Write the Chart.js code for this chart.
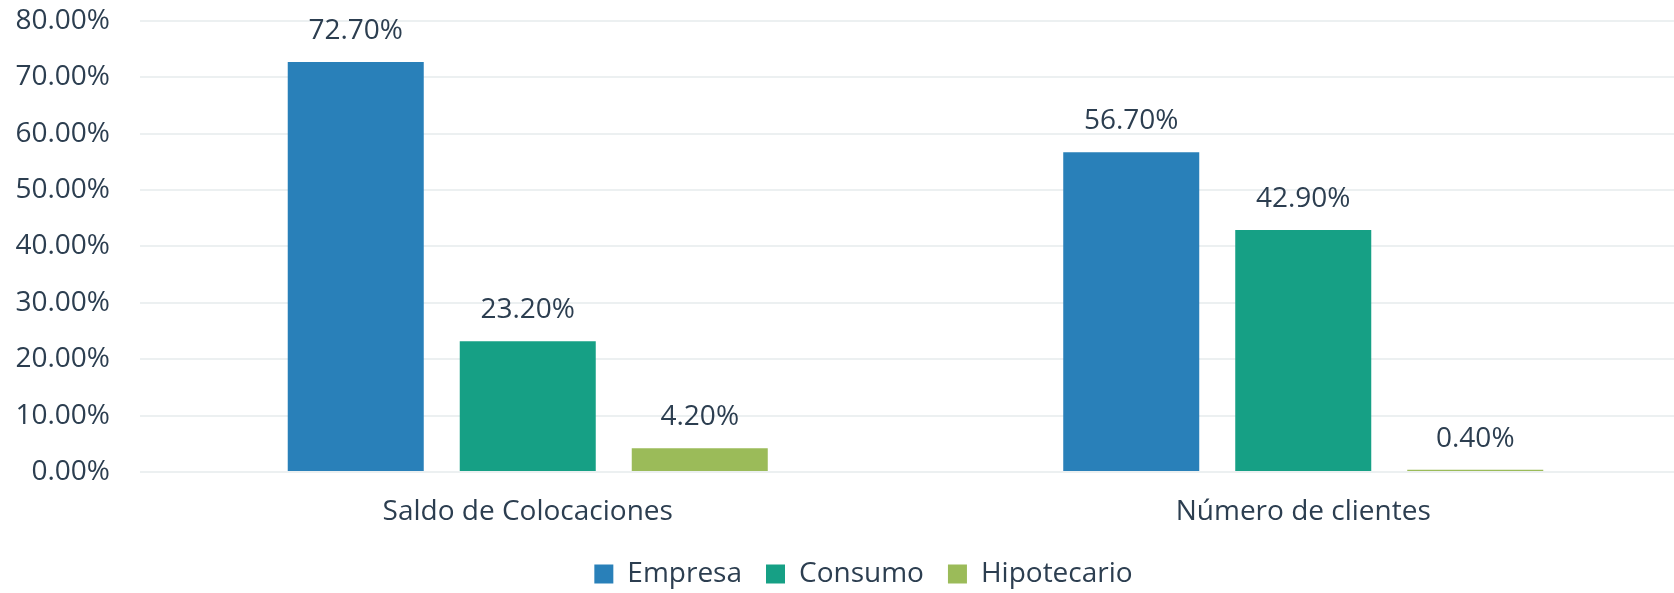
<!DOCTYPE html>
<html>
<head>
<meta charset="utf-8">
<script src="https://cdn.jsdelivr.net/npm/chart.js@4"></script>
<style>
  html, body { margin: 0; padding: 0; background: #fff; overflow: hidden; }
  #wrap { width: 1726px; height: 631px; margin-top: -26px; }
</style>
</head>
<body>
<div id="wrap"><canvas id="colocChart"></canvas></div>
<script>
/***** data *****/
var categories = ['Saldo de Colocaciones', 'Número de clientes'];
var empresa = [72.7, 56.7];
var consumo = [23.2, 42.9];
var hipotecario = [4.2, 0.4];
var yTicks = [0, 10, 20, 30, 40, 50, 60, 70, 80];

var textColor = '#2c3e50';
var font = { family: "'Open Sans', sans-serif", size: 28 };

// labels on top of the bars
var barLabels = {
  id: 'barLabels',
  afterDatasetsDraw: function (chart) {
    var ctx = chart.ctx;
    ctx.save();
    ctx.font = font.size + 'px ' + font.family;
    ctx.fillStyle = textColor;
    ctx.textAlign = 'center';
    ctx.textBaseline = 'middle';
    chart.data.datasets.forEach(function (ds, i) {
      chart.getDatasetMeta(i).data.forEach(function (bar, j) {
        ctx.fillText(ds.data[j].toFixed(2) + '%', bar.x, bar.y - 31);
      });
    });
    ctx.restore();
  }
};

// nudge the legend a bit (centred on the whole chart, not the plot)
var legendNudge = {
  id: 'legendNudge',
  afterLayout: function (chart) {
    var lg = chart.legend;
    if (!lg) return;
    lg.left += 18; lg.right += 18;
    lg.top -= 7; lg.bottom -= 7;
  }
};

var ctx = document.getElementById('colocChart');
var colocChart = new Chart(ctx, {
  type: 'bar',
  data: {
    labels: categories,
    datasets: [
      { label: 'Empresa', data: empresa, backgroundColor: '#2980b9' },
      { label: 'Consumo', data: consumo, backgroundColor: '#16a085' },
      { label: 'Hipotecario', data: hipotecario, backgroundColor: '#9bbb59' }
    ]
  },
  options: {
    responsive: true,
    maintainAspectRatio: false,
    animation: false,
    categoryPercentage: 0.6654,
    barPercentage: 0.7907,
    layout: { padding: { top: 20, right: 35, left: 0, bottom: 0 } },
    plugins: {
      tooltip: { enabled: false },
      legend: {
        position: 'bottom',
        labels: {
          color: textColor,
          font: font,
          boxWidth: 19,
          boxHeight: 19,
          padding: 24
        }
      }
    },
    scales: {
      x: {
        grid: { display: false },
        border: { display: false },
        ticks: { color: textColor, font: font, padding: 15 },
        afterFit: function (scale) { scale.height = 71; }
      },
      y: {
        min: 0,
        max: 80,
        afterBuildTicks: function (scale) {
          scale.ticks = yTicks.map(function (v) { return { value: v }; });
        },
        afterFit: function (scale) { scale.width = 140; },
        grid: { color: '#ecf0f1', lineWidth: 2, drawTicks: false },
        border: { display: false },
        ticks: {
          color: textColor,
          font: font,
          padding: 30,
          callback: function (v) { return v.toFixed(2) + '%'; }
        }
      }
    }
  },
  plugins: [barLabels, legendNudge]
});
</script>
</body>
</html>
